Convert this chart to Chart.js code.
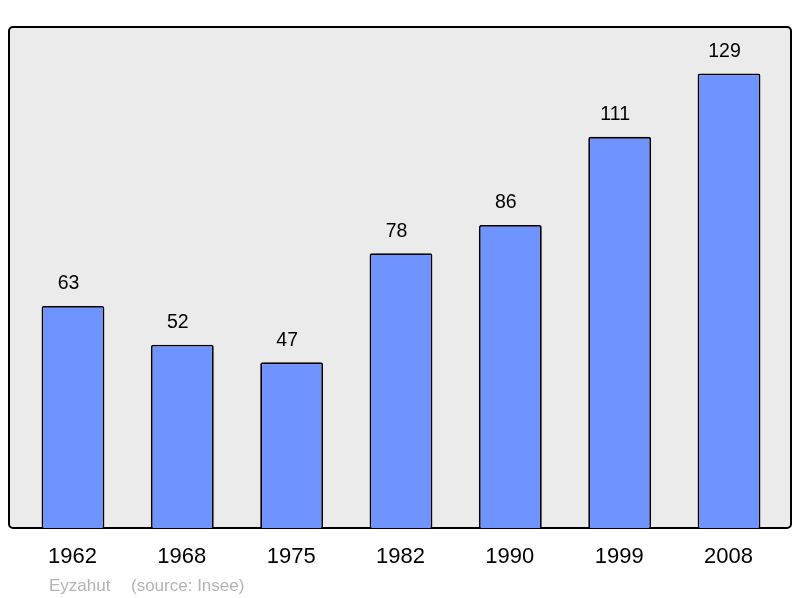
<!DOCTYPE html>
<html>
<head>
<meta charset="utf-8">
<script src="https://cdn.jsdelivr.net/npm/chart.js@4/dist/chart.umd.min.js"></script>
<style>
  html, body { margin: 0; padding: 0; background: #fff; }
  #wrap { width: 800px; height: 598px; }
</style>
</head>
<body>
<div id="wrap"><canvas id="popChart"></canvas></div>
<script>
const years = ["1962", "1968", "1975", "1982", "1990", "1999", "2008"];
const population = [63, 52, 47, 78, 86, 111, 129];
const yMax = 142;
const townName = "Eyzahut";
const sourceText = "(source: Insee)";

const FONT = "'Liberation Sans', Arial, sans-serif";

// gray framed panel, value labels, year labels and source line
const decorPlugin = {
  id: "decor",
  beforeDraw(chart) {
    const ctx = chart.ctx;
    const a = chart.chartArea;
    const x0 = a.left - 9.3, x1 = a.right + 7.3;
    const y0 = 27, y1 = a.bottom;
    ctx.save();
    ctx.beginPath();
    ctx.roundRect(x0, y0, x1 - x0, y1 - y0, 4);
    ctx.fillStyle = "#ebebeb";
    ctx.fill();
    ctx.lineWidth = 2;
    ctx.strokeStyle = "#000";
    ctx.stroke();
    ctx.restore();
  },
  afterDatasetsDraw(chart) {
    const ctx = chart.ctx;
    const meta = chart.getDatasetMeta(0);
    const xScale = chart.scales.x;
    ctx.save();
    ctx.fillStyle = "#000";
    ctx.textAlign = "center";
    ctx.textBaseline = "middle";
    ctx.font = "19.5px " + FONT;
    meta.data.forEach((bar, i) => {
      ctx.fillText(String(population[i]), bar.x - 4.5, bar.y - 22);
    });
    ctx.font = "22px " + FONT;
    years.forEach((y, i) => {
      ctx.fillText(y, xScale.getPixelForValue(i) - 0.5, chart.chartArea.bottom + 29);
    });
    ctx.textAlign = "left";
    ctx.textBaseline = "alphabetic";
    ctx.fillStyle = "#b3b3b3";
    ctx.font = "17px " + FONT;
    ctx.fillText(townName, 49, 591);
    ctx.fillText(sourceText, 131, 591);
    ctx.restore();
  }
};

new Chart(document.getElementById("popChart").getContext("2d"), {
  type: "bar",
  data: {
    labels: years,
    datasets: [
      {
        data: population,
        backgroundColor: "#7094ff",
        borderColor: "#000",
        borderWidth: 1.8,
        borderRadius: 2,
        barPercentage: 0.575,
        categoryPercentage: 1.0,
      },
    ],
  },
  options: {
    responsive: true,
    maintainAspectRatio: false,
    animation: false,
    layout: {
      padding: { left: 18.3, right: 16.3, top: 27.6, bottom: 70 },
    },
    plugins: {
      legend: { display: false },
      tooltip: { enabled: false },
    },
    scales: {
      x: { display: false },
      y: { display: false, min: 0, max: yMax },
    },
  },
  plugins: [decorPlugin],
});
</script>
</body>
</html>
